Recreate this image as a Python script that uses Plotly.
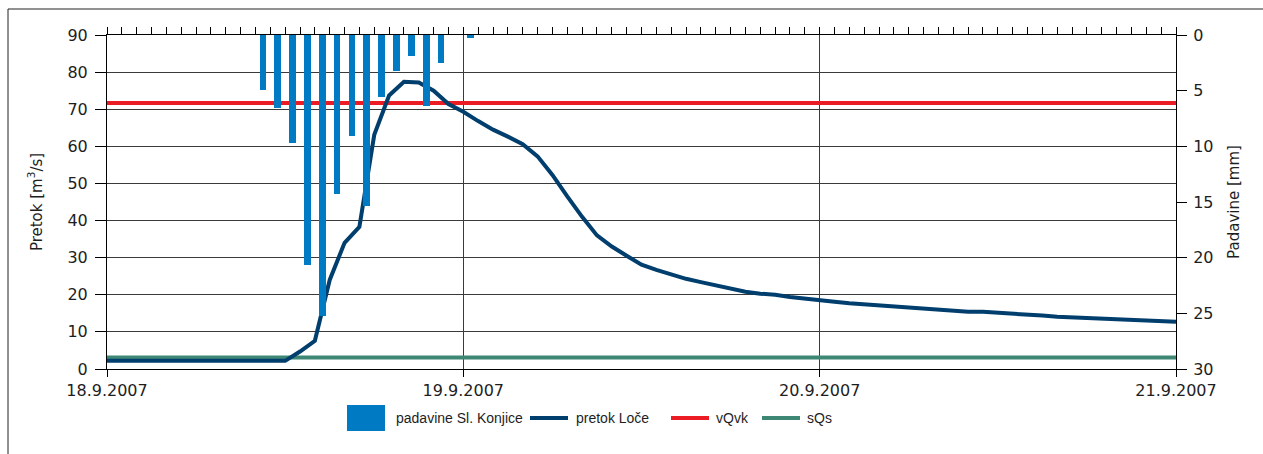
import pandas as pd
import plotly.graph_objects as go

# ---- data -------------------------------------------------------------
start = pd.Timestamp("2007-09-18 00:00")
end = pd.Timestamp("2007-09-21 00:00")

# hourly discharge at Loče [m3/s], 18.9. 00:00 ... 21.9. 00:00
flow_loce = [
    2.2, 2.2, 2.2, 2.2, 2.2, 2.2, 2.2, 2.2, 2.2, 2.2, 2.2, 2.2, 2.2,
    4.7, 7.6, 24.0, 34.0, 38.3, 63.1, 73.7, 77.4, 77.2, 75.0, 71.4,
    69.3, 66.8, 64.5, 62.6, 60.6, 57.3, 52.3, 46.5, 41.0, 36.0, 33.0, 30.5,
    28.1, 26.7, 25.5, 24.3, 23.4, 22.5, 21.7, 20.8, 20.3, 20.0, 19.4, 18.9,
    18.6, 18.1, 17.7, 17.4, 17.2, 16.7, 16.4, 16.2, 16.0, 15.5, 15.4, 15.4,
    15.2, 14.8, 14.6, 14.4, 14.1, 13.9, 13.7, 13.6, 13.4, 13.1, 13.1, 12.9,
    12.7,
]

# hourly precipitation at Slovenske Konjice [mm]
rain_konjice = [0.0] * 72
rain_konjice[10:25] = [4.9, 6.6, 9.7, 20.7, 25.2, 14.3, 9.1, 15.4,
                       5.6, 3.2, 1.9, 6.4, 2.5, 0.0, 0.3]

vqvk = 71.7   # high-water threshold [m3/s]
sqs = 3.1     # mean discharge [m3/s]

flow_times = pd.date_range(start, periods=len(flow_loce), freq="h")
rain_times = pd.date_range(start + pd.Timedelta(minutes=30), periods=len(rain_konjice), freq="h")

day_ticks = pd.date_range(start, end, freq="D")
day_labels = [f"{d.day}.{d.month}.{d.year}" for d in day_ticks]

# ---- styles -------------------------------------------------------------
C_RAIN = "#007BC3"
C_FLOW = "#003E6E"
C_VQVK = "#EC1C24"
C_SQS = "#3E8775"
C_GRID = "#3a3a3a"
C_TEXT = "#1e1e1e"
TICK_FONT = dict(family="DejaVu Sans", size=16, color=C_TEXT)
TITLE_FONT = dict(family="DejaVu Sans", size=15, color=C_TEXT)
LEG_FONT = dict(family="Liberation Sans", size=14, color=C_TEXT)

fig = go.Figure()

fig.add_trace(go.Bar(
    x=rain_times, y=rain_konjice, base=0, width=0.45 * 3600 * 1000,
    marker=dict(color=C_RAIN, line=dict(width=0)),
    name="padavine Sl. Konjice", xaxis="x2", yaxis="y2",
))
fig.add_trace(go.Scatter(
    x=[start, end], y=[vqvk, vqvk], mode="lines",
    line=dict(color=C_VQVK, width=4), name="vQvk",
))
fig.add_trace(go.Scatter(
    x=[start, end], y=[sqs, sqs], mode="lines",
    line=dict(color=C_SQS, width=4), name="sQs",
))
fig.add_trace(go.Scatter(
    x=flow_times, y=flow_loce, mode="lines",
    line=dict(color=C_FLOW, width=4), name="pretok Loče",
))

# ---- plot area geometry (pixels) ---------------------------------------
W, H = 1263, 454
L, R, T, B = 107, 87, 35, 85
PW, PH = W - L - R, H - T - B


def px(xp):
    return (xp - L) / PW


def py(yp):
    return (H - B - yp) / PH


fig.update_layout(
    width=W, height=H,
    margin=dict(l=L, r=R, t=T, b=B, pad=0),
    paper_bgcolor="white", plot_bgcolor="white",
    showlegend=False,
    bargap=0,
    xaxis=dict(
        type="date", range=[start, end],
        tickvals=day_ticks, ticktext=day_labels,
        ticks="outside", ticklen=7, tickcolor="black", tickwidth=1,
        showline=True, linecolor="black", linewidth=1,
        showgrid=True, gridcolor=C_GRID, gridwidth=1,
        zeroline=False, tickfont=TICK_FONT,
    ),
    xaxis2=dict(
        type="date", range=[start, end], overlaying="x", side="top",
        tick0=start, dtick=3600 * 1000,
        ticks="outside", ticklen=7, tickcolor="black", tickwidth=1,
        showticklabels=False, showline=True, linecolor="black", linewidth=1,
        showgrid=False, zeroline=False,
    ),
    yaxis=dict(
        range=[0, 90], dtick=10,
        ticks="outside", ticklen=11, tickcolor="black", tickwidth=1,
        ticklabelstandoff=4,
        showline=True, linecolor="black", linewidth=1,
        showgrid=True, gridcolor=C_GRID, gridwidth=1, zeroline=False,
        tickfont=TICK_FONT,
        title=dict(text="Pretok [m<sup>3</sup>/s]", font=TITLE_FONT, standoff=21),
    ),
    yaxis2=dict(
        range=[30, 0], dtick=5, overlaying="y", side="right",
        ticks="outside", ticklen=10, tickcolor="black", tickwidth=1,
        ticklabelstandoff=3,
        showline=True, linecolor="black", linewidth=1,
        showgrid=False, zeroline=False, tickfont=TICK_FONT,
        title=dict(text="Padavine [mm]", font=TITLE_FONT, standoff=15),
    ),
)

# ---- frame around the whole chart --------------------------------------
fig.add_shape(type="rect", xref="paper", yref="paper",
              x0=px(8), x1=px(W + 20), y0=py(H + 20), y1=py(9),
              line=dict(color="#222", width=1), fillcolor="rgba(0,0,0,0)", layer="below")

# ---- legend ------------------------------------------------------------
leg_y = 418
fig.add_shape(type="rect", xref="paper", yref="paper",
              x0=px(347), x1=px(385), y0=py(431), y1=py(405),
              fillcolor=C_RAIN, line=dict(width=0))
for x0, x1, col in [(530, 568, C_FLOW), (671, 709, C_VQVK), (762, 800, C_SQS)]:
    fig.add_shape(type="line", xref="paper", yref="paper",
                  x0=px(x0), x1=px(x1), y0=py(leg_y), y1=py(leg_y),
                  line=dict(color=col, width=4))
for xl, txt in [(395, "padavine Sl. Konjice"), (575, "pretok Loče"),
                (715, "vQvk"), (806, "sQs")]:
    fig.add_annotation(xref="paper", yref="paper", x=px(xl), y=py(leg_y),
                       text=txt, showarrow=False, xanchor="left", yanchor="middle",
                       font=LEG_FONT, borderpad=0)

fig.write_html("out.html")
